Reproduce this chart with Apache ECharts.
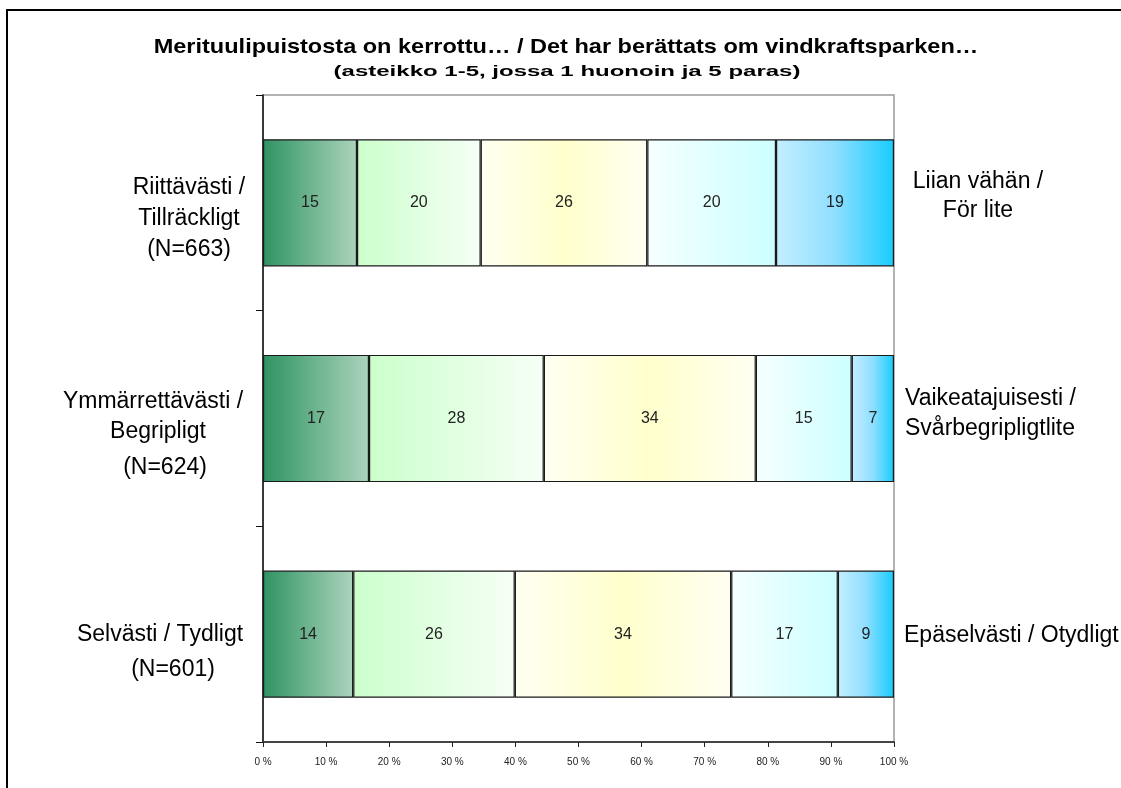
<!DOCTYPE html>
<html lang="fi">
<head>
    <meta charset="UTF-8">
    <title>Merituulipuistosta on kerrottu</title>
    <script src="https://cdn.jsdelivr.net/npm/echarts@6/dist/echarts.min.js"></script>
    <style>
        html, body { margin: 0; padding: 0; background: #fff; }
        #box { width: 1121px; height: 788px; }
    </style>
</head>
<body>
    <div id="box"></div>
<script>
    // rivit ylhäältä alas
    var categories = ['Riittävästi', 'Ymmärrettävästi', 'Selvästi']
    // osuudet (%), arvio kuvasta, asteikon arvot 1..5
    var s1 = [14.9, 16.8, 14.3]
    var s2 = [19.6, 27.7, 25.6]
    var s3 = [26.4, 33.6, 34.3]
    var s4 = [20.4, 15.2, 16.9]
    var s5 = [18.7, 6.7, 8.9]
    var xTicks = [0, 10, 20, 30, 40, 50, 60, 70, 80, 90, 100]

    var titleText = 'Merituulipuistosta on kerrottu\u2026 / Det har berättats om vindkraftsparken\u2026'
    var subText = '(asteikko 1-5, jossa 1 huonoin ja 5 paras)'

    // tekstilaatikot vasemmalla ja oikealla
    var leftLines = [
        ['Riittävästi /', 189, 188], ['Tillräckligt', 189, 219], ['(N=663)', 189, 250],
        ['Ymmärrettävästi /', 153, 402], ['Begripligt', 158, 432], ['(N=624)', 165, 468],
        ['Selvästi / Tydligt', 160, 635], ['(N=601)', 173, 670]
    ]
    var rightLines = [
        ['Liian vähän /', 978, 182, 'center'], ['För lite', 978, 211, 'center'],
        ['Vaikeatajuisesti /', 905, 399, 'left'], ['Svårbegripligtlite', 905, 429, 'left'],
        ['Epäselvästi / Otydligt', 904, 636, 'left']
    ]

    var fills = [
        [[0, '#2f9363'], [0.5, '#6db48f'], [1, '#acd3bd']],
        [[0, '#ccffcc'], [1, '#f6fff6']],
        [[0, '#fffff2'], [0.5, '#ffffcc'], [1, '#fffff2']],
        [[0, '#f6ffff'], [1, '#ccffff']],
        [[0, '#c4eeff'], [0.5, '#8fdfff'], [1, '#18ccff']]
    ]
    var data = [s1, s2, s3, s4, s5]

    function grad(stops) {
        return {
            type: 'linear', x: 0, y: 0, x2: 1, y2: 0,
            colorStops: stops.map(function (s) { return { offset: s[0], color: s[1] } })
        }
    }

    var series = []
    for (var i = 0; i < 5; i++) {
        series.push({
            name: 'arvo ' + (i + 1),
            type: 'bar',
            stack: 'yht',
            barCategoryGap: '41%',
            data: data[i],
            itemStyle: { color: grad(fills[i]), borderColor: '#1a1a1a', borderWidth: 1.2 },
            label: {
                show: true,
                position: 'inside',
                color: '#222',
                fontSize: 16,
                fontFamily: 'Liberation Sans, Arial',
                formatter: function (p) { return Math.round(p.value) }
            },
            emphasis: { disabled: true },
            animation: false
        })
    }

    var graphic = [{
        type: 'rect',
        shape: { x: 7, y: 10, width: 1200, height: 900 },
        style: { fill: 'none', stroke: '#000', lineWidth: 2 },
        silent: true
    }, {
        // otsikko on alkuperäisessä hieman leveämpi kuin Arial
        type: 'text', x: 566, y: 47, scaleX: 1.12,
        style: { text: titleText, fill: '#000', font: 'bold 21px "Liberation Sans", Arial', textAlign: 'center', textVerticalAlign: 'middle' }
    }, {
        type: 'text', x: 567, y: 72, scaleX: 1.6,
        style: { text: subText, fill: '#000', font: 'bold 15px "Liberation Sans", Arial', textAlign: 'center', textVerticalAlign: 'middle' }
    }]
    leftLines.forEach(function (l) {
        graphic.push({
            type: 'text', x: l[1], y: l[2],
            style: { text: l[0], fill: '#000', font: '23px "Liberation Sans", Arial', textAlign: 'center', textVerticalAlign: 'middle' }
        })
    })
    rightLines.forEach(function (l) {
        graphic.push({
            type: 'text', x: l[1], y: l[2],
            style: { text: l[0], fill: '#000', font: '23px "Liberation Sans", Arial', textAlign: l[3], textVerticalAlign: 'middle' }
        })
    })

    var mEcharts = echarts.init(document.querySelector('#box'))
    var option = {
        backgroundColor: '#fff',
        animation: false,
        grid: {
            left: 263, right: 227, top: 95, bottom: 46,
            show: true, borderColor: '#9a9a9a', borderWidth: 1.5, backgroundColor: 'transparent'
        },
        xAxis: {
            type: 'value',
            min: 0, max: 100, interval: 10,
            axisLine: { show: true, lineStyle: { color: '#444', width: 2 } },
            axisTick: { show: true, length: 5, lineStyle: { color: '#222' } },
            splitLine: { show: false },
            axisLabel: {
                color: '#222', fontSize: 10, margin: 15,
                fontFamily: 'Liberation Sans, Arial',
                formatter: function (v) { return xTicks.indexOf(v) >= 0 ? v + ' %' : '' }
            }
        },
        yAxis: {
            type: 'category',
            data: categories,
            inverse: true,
            axisLine: { show: true, lineStyle: { color: '#111', width: 1.5 } },
            axisTick: { show: true, length: 7, lineStyle: { color: '#111' } },
            axisLabel: { show: false }
        },
        graphic: graphic,
        series: series
    }
    mEcharts.setOption(option)
</script>
</body>
</html>
